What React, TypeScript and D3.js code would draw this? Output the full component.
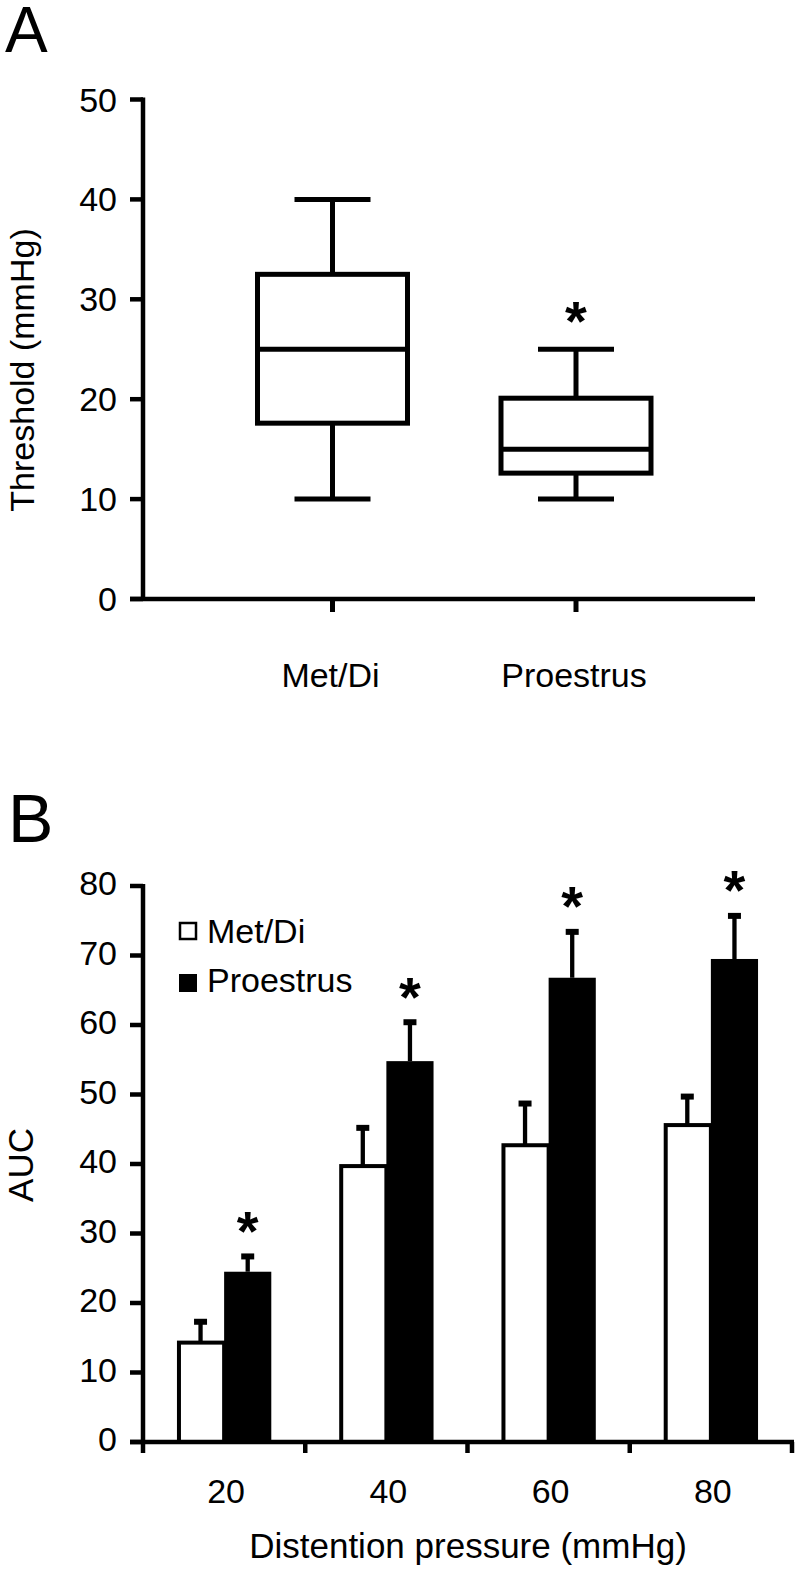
import React from 'react';
import * as d3 from 'd3';

// ---------- Panel A data (box plot) ----------
const boxCategories = ['Met/Di', 'Proestrus'];
const boxMin = [10, 10];
const boxQ1 = [17.6, 12.6];
const boxMedian = [25, 15];
const boxQ3 = [32.5, 20.1];
const boxMax = [40, 25];
const boxSignificant = [false, true];
const thresholdTicks = [0, 10, 20, 30, 40, 50];

// ---------- Panel B data (grouped bars) ----------
const pressures = ['20', '40', '60', '80'];
const seriesNames = ['Met/Di', 'Proestrus'];
const metDiMean = [14.3, 39.7, 42.7, 45.6];
const metDiErr = [3.0, 5.5, 6.0, 4.1];
const proestrusMean = [24.5, 54.8, 66.8, 69.5];
const proestrusErr = [2.2, 5.6, 6.6, 6.2];
const proestrusSignificant = [true, true, true, true];
const aucTicks = [0, 10, 20, 30, 40, 50, 60, 70, 80];

const FONT = '"Liberation Sans", Arial, Helvetica, sans-serif';

function Asterisk({ x, cy }: { x: number; cy: number }) {
  const fs = 56;
  return (
    <text x={x} y={cy + fs * 0.47} textAnchor="middle" fontSize={fs} fontWeight="bold" fontFamily={FONT}>
      *
    </text>
  );
}

function PanelA() {
  const y = d3.scaleLinear().domain([0, 50]).range([599, 99.5]);
  const x = d3.scalePoint<string>().domain(boxCategories).range([332.5, 576]);
  const boxW = 150;
  const capW = 76;
  const axisX = 143;
  return (
    <g>
      <text x={5} y={52} fontSize={64} fontFamily={FONT}>A</text>
      {/* y axis */}
      <line x1={axisX} x2={axisX} y1={y(50) - 2} y2={y(0) + 2} stroke="#000" strokeWidth={4.5} />
      {thresholdTicks.map((t) => (
        <g key={t}>
          <line x1={130} x2={axisX} y1={y(t)} y2={y(t)} stroke="#000" strokeWidth={4.5} />
          <text x={117} y={y(t) + 12} textAnchor="end" fontSize={34} fontFamily={FONT}>{t}</text>
        </g>
      ))}
      {/* x axis */}
      <line x1={130} x2={755} y1={y(0)} y2={y(0)} stroke="#000" strokeWidth={4.5} />
      {boxCategories.map((c) => (
        <g key={c}>
          <line x1={x(c)} x2={x(c)} y1={y(0)} y2={y(0) + 13} stroke="#000" strokeWidth={5} />
          <text x={x(c)! - 2} y={687} textAnchor="middle" fontSize={34} fontFamily={FONT}>{c}</text>
        </g>
      ))}
      {/* boxes */}
      {boxCategories.map((c, i) => {
        const cx = x(c)!;
        return (
          <g key={c} stroke="#000" strokeWidth={5} fill="none">
            <line x1={cx} x2={cx} y1={y(boxMax[i])} y2={y(boxQ3[i])} />
            <line x1={cx} x2={cx} y1={y(boxQ1[i])} y2={y(boxMin[i])} />
            <line x1={cx - capW / 2} x2={cx + capW / 2} y1={y(boxMax[i])} y2={y(boxMax[i])} />
            <line x1={cx - capW / 2} x2={cx + capW / 2} y1={y(boxMin[i])} y2={y(boxMin[i])} />
            <rect x={cx - boxW / 2} y={y(boxQ3[i])} width={boxW} height={y(boxQ1[i]) - y(boxQ3[i])} fill="#fff" />
            <line x1={cx - boxW / 2} x2={cx + boxW / 2} y1={y(boxMedian[i])} y2={y(boxMedian[i])} />
          </g>
        );
      })}
      {boxCategories.map((c, i) =>
        boxSignificant[i] ? <Asterisk key={c} x={x(c)!} cy={y(boxMax[i]) - 36} /> : null
      )}
      <text transform="translate(34,370) rotate(-90)" textAnchor="middle" fontSize={34} fontFamily={FONT}>
        Threshold (mmHg)
      </text>
    </g>
  );
}

function PanelB() {
  const y = d3.scaleLinear().domain([0, 80]).range([1442, 886]);
  const x0 = d3.scaleBand<string>().domain(pressures).range([143, 792]).padding(0);
  const x1 = d3
    .scaleBand<string>()
    .domain(seriesNames)
    .range([0, x0.bandwidth()])
    .paddingInner(0)
    .paddingOuter(0.72);
  const bw = x1.bandwidth();
  const axisX = 143;
  const capW = 13;
  const means = [metDiMean, proestrusMean];
  const errs = [metDiErr, proestrusErr];
  return (
    <g>
      <text x={8} y={842} fontSize={68} fontFamily={FONT}>B</text>
      {/* bars */}
      {pressures.map((p, gi) => (
        <g key={p}>
          {seriesNames.map((s, si) => {
            const bx = x0(p)! + x1(s)!;
            const v = means[si][gi];
            const top = y(v);
            const cx = bx + bw / 2;
            const capY = y(v + errs[si][gi]);
            return (
              <g key={s}>
                <line x1={cx} x2={cx} y1={top} y2={capY} stroke="#000" strokeWidth={4.3} />
                <line x1={cx - capW / 2} x2={cx + capW / 2} y1={capY} y2={capY} stroke="#000" strokeWidth={6} />
                {si === 0 ? (
                  <rect x={bx + 2} y={top} width={bw - 2} height={y(0) - top} fill="#fff" stroke="#000" strokeWidth={4} />
                ) : (
                  <rect x={bx} y={top} width={bw} height={y(0) - top} fill="#000" />
                )}
              </g>
            );
          })}
          {proestrusSignificant[gi] ? (
            <Asterisk
              x={x0(p)! + x1('Proestrus')! + bw / 2}
              cy={y(proestrusMean[gi] + proestrusErr[gi]) - 33}
            />
          ) : null}
        </g>
      ))}
      {/* y axis */}
      <line x1={axisX} x2={axisX} y1={y(80) - 2} y2={y(0) + 2} stroke="#000" strokeWidth={4.5} />
      {aucTicks.map((t) => (
        <g key={t}>
          <line x1={130} x2={axisX} y1={y(t)} y2={y(t)} stroke="#000" strokeWidth={4.5} />
          <text x={117} y={y(t) + 9} textAnchor="end" fontSize={34} fontFamily={FONT}>{t}</text>
        </g>
      ))}
      {/* x axis */}
      <line x1={130} x2={794} y1={y(0)} y2={y(0)} stroke="#000" strokeWidth={4.5} />
      {pressures.map((p) => (
        <line key={'t' + p} x1={x0(p)!} x2={x0(p)!} y1={y(0)} y2={y(0) + 11} stroke="#000" strokeWidth={4.5} />
      ))}
      <line x1={x0.range()[1]} x2={x0.range()[1]} y1={y(0)} y2={y(0) + 11} stroke="#000" strokeWidth={4.5} />
      {pressures.map((p) => (
        <text key={'l' + p} x={x0(p)! + x0.bandwidth() / 2 + 2} y={1503} textAnchor="middle" fontSize={34} fontFamily={FONT}>
          {p}
        </text>
      ))}
      <text x={468} y={1558} textAnchor="middle" fontSize={35} fontFamily={FONT}>
        Distention pressure (mmHg)
      </text>
      <text transform="translate(33,1165) rotate(-90)" textAnchor="middle" fontSize={35} fontFamily={FONT}>
        AUC
      </text>
      {/* legend */}
      <rect x={180} y={923} width={16} height={16} fill="#fff" stroke="#000" strokeWidth={2.5} />
      <text x={207} y={943} fontSize={34} fontFamily={FONT}>{seriesNames[0]}</text>
      <rect x={179} y={974} width={18} height={18} fill="#000" />
      <text x={207} y={992} fontSize={34} fontFamily={FONT}>{seriesNames[1]}</text>
    </g>
  );
}

export default function App() {
  return (
    <svg
      width={800}
      height={1578}
      viewBox="0 0 800 1578"
      style={{ position: 'absolute', left: 0, top: 0, background: '#fff' }}
    >
      <rect x={0} y={0} width={800} height={1578} fill="#fff" />
      <PanelA />
      <PanelB />
    </svg>
  );
}
